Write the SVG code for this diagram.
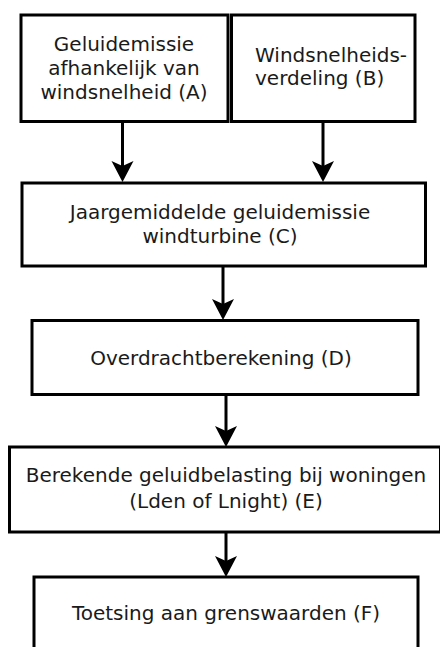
<svg xmlns="http://www.w3.org/2000/svg" width="440" height="647" viewBox="0 0 440 647">
<style>
.box{fill:#fff;stroke:#000;stroke-width:3}
.t{font-family:"DejaVu Sans",sans-serif;font-size:20px;fill:#1a1a1a;text-anchor:middle}
.tl{text-anchor:start}
.edge{stroke:#000;stroke-width:3;fill:none;marker-end:url(#ah)}
</style>
<defs>
<marker id="ah" markerUnits="userSpaceOnUse" viewBox="-16 -12 23 24" markerWidth="23" markerHeight="24" refX="0" refY="0" orient="auto">
<path d="M6,0 L-15,-11 L-10,0 L-15,11 Z" fill="#000"/>
</marker>
</defs>
<rect width="440" height="647" fill="#fff"/>
<g id="A">
<rect class="box" x="21" y="15" width="207" height="106.5"/>
<text class="t" x="124" y="51">Geluidemissie</text>
<text class="t" x="124" y="75">afhankelijk van</text>
<text class="t" x="124" y="99">windsnelheid (A)</text>
</g>
<g id="B">
<rect class="box" x="231.5" y="15" width="183.5" height="106.5"/>
<text class="t tl" x="255" y="62">Windsnelheids-</text>
<text class="t tl" x="255" y="85">verdeling (B)</text>
</g>
<g id="C">
<rect class="box" x="22" y="183" width="403.5" height="83"/>
<text class="t" x="220" y="219">Jaargemiddelde geluidemissie</text>
<text class="t" x="220" y="243">windturbine (C)</text>
</g>
<g id="D">
<rect class="box" x="32" y="320.5" width="386" height="74"/>
<text class="t" x="221" y="365">Overdrachtberekening (D)</text>
</g>
<g id="E">
<rect class="box" x="9.5" y="447" width="431" height="85"/>
<text class="t" x="226" y="482">Berekende geluidbelasting bij woningen</text>
<text class="t" x="226" y="508">(Lden of Lnight) (E)</text>
</g>
<g id="F">
<rect class="box" x="34" y="577" width="384" height="90"/>
<text class="t" x="226" y="620">Toetsing aan grenswaarden (F)</text>
</g>
<g id="connectors">
<line class="edge" x1="122.5" y1="121.5" x2="122.5" y2="176"/>
<line class="edge" x1="323" y1="121.5" x2="323" y2="176"/>
<line class="edge" x1="223" y1="266" x2="223" y2="314"/>
<line class="edge" x1="226" y1="394.5" x2="226" y2="441"/>
<line class="edge" x1="226" y1="532" x2="226" y2="571"/>
</g>
</svg>
